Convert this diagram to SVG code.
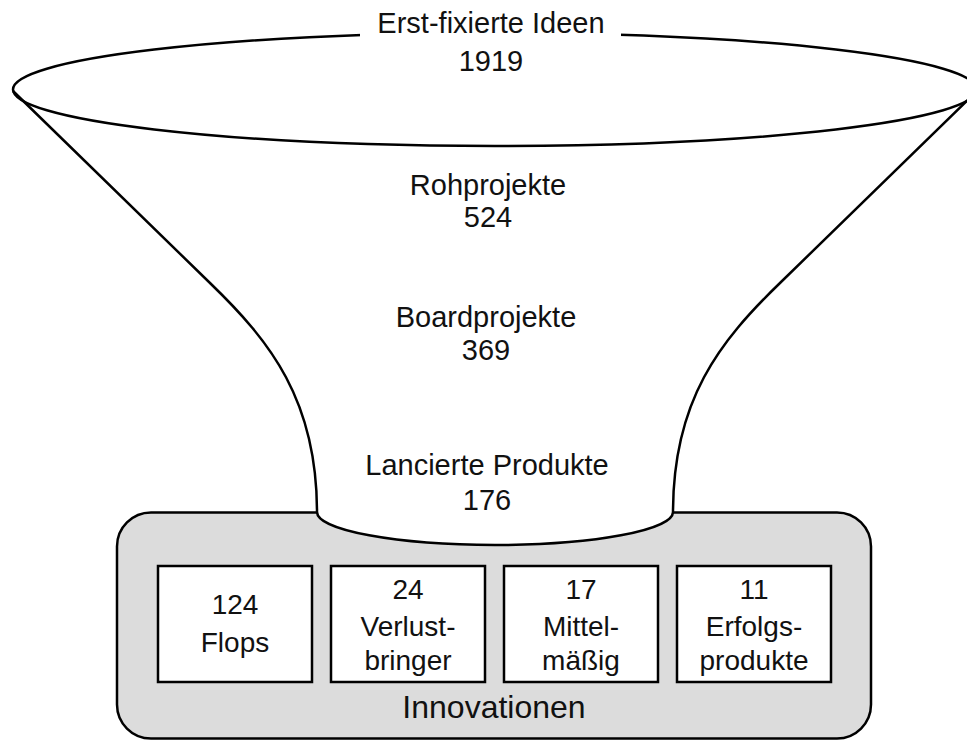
<svg xmlns="http://www.w3.org/2000/svg" width="967" height="742" viewBox="0 0 967 742">
  <style>
    text { font-family: "Liberation Sans", Arial, sans-serif; fill: #111; text-anchor: middle; }
    .t { font-size: 29px; }
    .b { font-size: 28px; }
    .big { font-size: 32px; }
    .line { fill: none; stroke: #000; stroke-width: 2.5; stroke-linejoin: round; }
    .box { fill: #fff; stroke: #000; stroke-width: 2.5; }
  </style>
  <rect width="967" height="742" fill="#fff"/>

  <g id="innovationen">
    <rect x="117" y="512.5" width="754" height="226" rx="34" ry="34" fill="#dcdcdc" stroke="#000" stroke-width="2.5"/>
    <text class="big" x="494" y="718">Innovationen</text>
  </g>

  <g id="funnel">
    <path d="M13,91 L210,283 C270,341 317,400 317,512 A178,33 0 0 0 673,512 C673,400 720,341 780,283 L977,91 Z" fill="#fff"/>
    <path class="line" d="M13,91 L210,283 C270,341 317,400 317,512 A178,33 0 0 0 673,512 C673,400 720,341 780,283 L977,91"/>
    <ellipse class="line" cx="495" cy="89.5" rx="482" ry="56.5"/>
  </g>

  <g id="stage-ideen">
    <rect x="360" y="8" width="261" height="34" fill="#fff"/>
    <text class="t" x="491" y="33">Erst-fixierte Ideen</text>
    <text class="t" x="491" y="71">1919</text>
  </g>
  <g id="stage-roh">
    <text class="t" x="488" y="195">Rohprojekte</text>
    <text class="t" x="488" y="227">524</text>
  </g>
  <g id="stage-board">
    <text class="t" x="486" y="327">Boardprojekte</text>
    <text class="t" x="486" y="360">369</text>
  </g>
  <g id="stage-lanciert">
    <text class="t" x="487" y="475">Lancierte Produkte</text>
    <text class="t" x="487" y="510">176</text>
  </g>

  <g id="box-flops">
    <rect class="box" x="158" y="566" width="154" height="116"/>
    <text class="b" x="235" y="614">124</text>
    <text class="b" x="235" y="652">Flops</text>
  </g>
  <g id="box-verlust">
    <rect class="box" x="331" y="566" width="154" height="116"/>
    <text class="b" x="408" y="599">24</text>
    <text class="b" x="408" y="636">Verlust-</text>
    <text class="b" x="408" y="670">bringer</text>
  </g>
  <g id="box-mittel">
    <rect class="box" x="504" y="566" width="154" height="116"/>
    <text class="b" x="581" y="599">17</text>
    <text class="b" x="581" y="636">Mittel-</text>
    <text class="b" x="581" y="670">mäßig</text>
  </g>
  <g id="box-erfolg">
    <rect class="box" x="677" y="566" width="154" height="116"/>
    <text class="b" x="754" y="599">11</text>
    <text class="b" x="754" y="636">Erfolgs-</text>
    <text class="b" x="754" y="670">produkte</text>
  </g>
</svg>
